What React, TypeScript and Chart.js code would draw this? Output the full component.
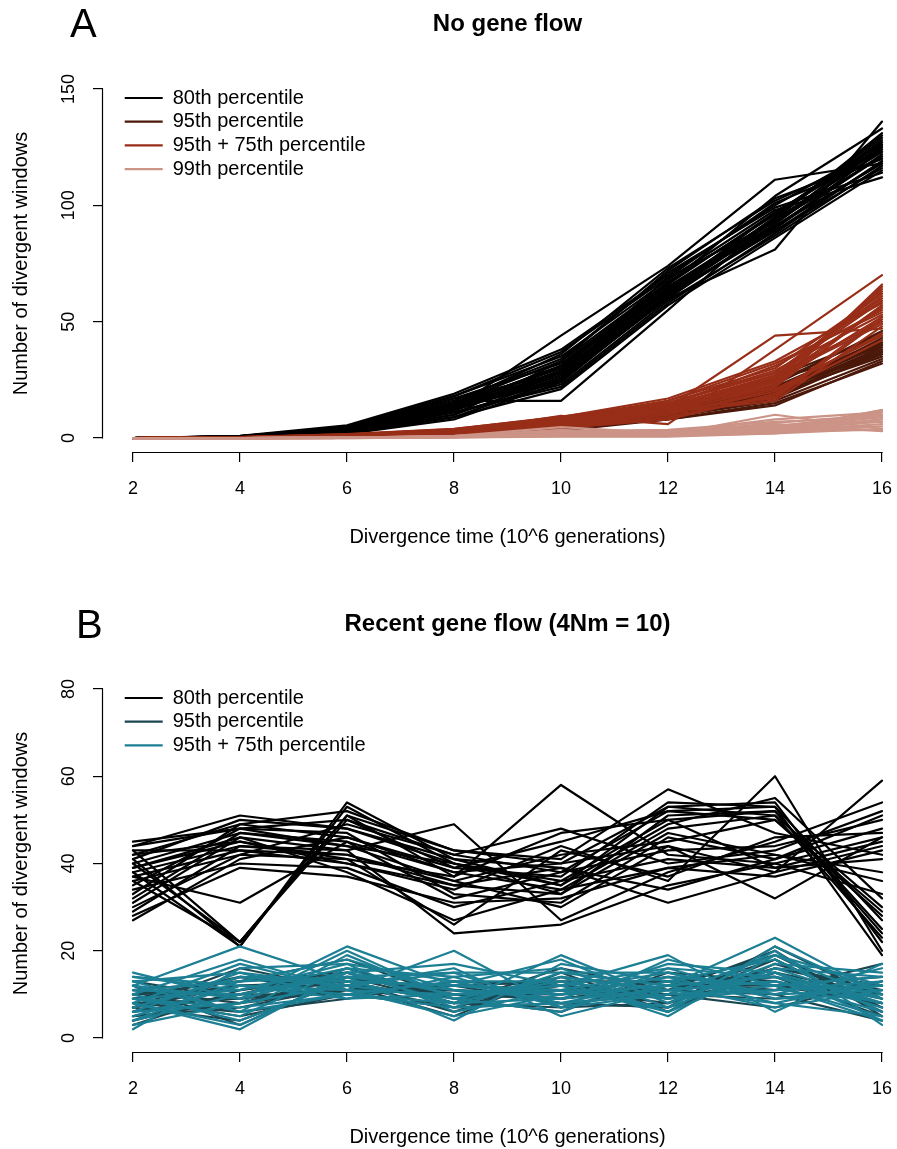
import React, { useEffect, useRef } from 'react';
import { Chart, registerables } from 'chart.js';

Chart.register(...registerables);

// ---------------- data ----------------
const divergenceTimes = [2, 4, 6, 8, 10, 12, 14, 16];
const xTickValues = [2, 4, 6, 8, 10, 12, 14, 16];
const yTickValuesA = [0, 50, 100, 150];
const yTickValuesB = [0, 20, 40, 60, 80];
const panelLetters = ['A', 'B'];
const titleA = 'No gene flow';
const titleB = 'Recent gene flow (4Nm = 10)';
const xAxisTitle = 'Divergence time (10^6 generations)';
const yAxisTitle = 'Number of divergent windows';
const seriesNamesA = ['80th percentile', '95th percentile', '95th + 75th percentile', '99th percentile'];
const seriesNamesB = ['80th percentile', '95th percentile', '95th + 75th percentile'];

// Panel A: no gene flow, one row per replicate (values at 2,4,...,16)
const noFlow80th = [
  [0, 0.5, 3.0, 12.6, 44, 74, 111, 118],
  [0, 0.8, 4.5, 16, 16, 55, 95, 128],
  [0, 0.4, 2.5, 10, 33, 72, 103, 120],
  [0, 0.6, 3.5, 14, 28, 63, 92, 125],
  [0, 0.3, 2.0, 9, 25, 60, 81, 136],
  [0, 0.7, 5.0, 18, 35, 68, 98, 112],
  [0, 0.5, 3.8, 15, 30, 65, 90, 122],
  [0, 0.9, 5.5, 19, 38, 70, 100, 126],
  [0, 0.4, 2.8, 11, 22, 58, 88, 119],
  [0, 0.6, 4.0, 13, 27, 62, 94, 131],
  [0, 0.2, 1.8, 8, 24, 61, 89, 116],
  [0, 0.7, 4.8, 17, 32, 66, 97, 124],
  [0, 0.5, 3.3, 12, 29, 69, 93, 127],
  [0, 0.3, 2.2, 10, 26, 64, 91, 121],
  [0, 0.8, 4.2, 16, 34, 71, 99, 114],
  [0, 0.6, 3.6, 14, 31, 67, 96, 129],
  [0, 0.4, 2.6, 11, 23, 59, 87, 117],
  [0, 0.5, 3.9, 15, 36, 73, 102, 123],
  [0, 0.7, 4.4, 17, 28, 63, 95, 130],
  [0, 0.3, 2.4, 9, 21, 57, 86, 115],
  [0, 0.6, 3.1, 13, 25, 62, 92, 126],
  [0, 0.5, 3.7, 14, 30, 66, 104, 133],
  [0, 0.8, 4.6, 18, 37, 69, 101, 120],
  [0, 0.4, 2.9, 12, 27, 61, 90, 124],
  [0, 0.6, 3.4, 13, 29, 64, 93, 121],
  [0, 0.5, 3.2, 12, 26, 60, 91, 118],
  [0, 0.7, 4.1, 15, 33, 67, 96, 127],
  [0, 0.4, 3.0, 12, 28, 65, 94, 123],
  [0, 0.6, 3.5, 14, 31, 63, 97, 125],
  [0, 0.5, 3.6, 13, 24, 62, 89, 119],
];
const noFlow95th = [
  [0, 0.1, 0.5, 1.8, 4.5, 10, 18, 38],
  [0, 0.2, 0.8, 2.5, 6.0, 12, 22, 42],
  [0, 0.0, 0.4, 1.2, 3.5, 9, 16, 34],
  [0, 0.1, 0.6, 2.0, 5.0, 11, 20, 40],
  [0, 0.2, 0.9, 2.8, 6.5, 13, 24, 45],
  [0, 0.1, 0.3, 1.5, 4.0, 8, 15, 32],
  [0, 0.1, 0.7, 2.2, 5.5, 12, 21, 36],
  [0, 0.0, 0.5, 1.6, 4.2, 10, 19, 43],
  [0, 0.2, 0.8, 2.6, 6.2, 14, 25, 39],
  [0, 0.1, 0.4, 1.4, 3.8, 9, 17, 37],
  [0, 0.1, 0.6, 2.1, 5.2, 11, 23, 46],
  [0, 0.2, 0.7, 2.4, 4.8, 13, 19, 35],
  [0, 0.0, 0.5, 1.9, 4.6, 10, 21, 41],
  [0, 0.1, 0.9, 2.9, 6.8, 12, 26, 44],
  [0, 0.1, 0.4, 1.3, 3.2, 8, 14, 33],
  [0, 0.2, 0.6, 2.3, 5.8, 11, 20, 38],
  [0, 0.1, 0.5, 1.7, 4.4, 10, 18, 36],
  [0, 0.1, 0.8, 2.7, 5.6, 13, 22, 40],
  [0, 0.1, 0.6, 2.0, 5.0, 11, 19, 39],
  [0, 0.1, 0.7, 2.3, 5.4, 12, 21, 41],
  [0, 0.2, 0.6, 2.1, 5.1, 11, 20, 37],
];
const noFlow95th75th = [
  [0, 0.2, 1.0, 2.5, 9.5, 6, 38, 70],
  [0, 0.3, 1.2, 3.0, 6.5, 13, 44, 47],
  [0, 0.2, 0.8, 2.2, 5.5, 11, 22, 66],
  [0, 0.4, 1.5, 3.6, 8.0, 15, 28, 60],
  [0, 0.1, 0.6, 1.8, 4.5, 9, 18, 52],
  [0, 0.3, 1.3, 3.2, 7.2, 14, 31, 55],
  [0, 0.2, 0.9, 2.6, 6.0, 12, 25, 63],
  [0, 0.4, 1.7, 4.0, 9.0, 17, 33, 58],
  [0, 0.1, 0.7, 2.0, 5.0, 10, 20, 45],
  [0, 0.3, 1.1, 2.9, 7.0, 13, 27, 50],
  [0, 0.2, 1.4, 3.4, 8.5, 16, 30, 62],
  [0, 0.2, 0.8, 2.3, 5.8, 11, 16, 48],
  [0, 0.3, 1.0, 2.7, 6.8, 14, 24, 57],
  [0, 0.1, 0.6, 1.6, 4.2, 8, 19, 42],
  [0, 0.4, 1.6, 3.8, 9.2, 15, 29, 53],
  [0, 0.2, 0.9, 2.4, 6.2, 12, 23, 65],
  [0, 0.3, 1.2, 3.1, 7.5, 13, 26, 49],
  [0, 0.1, 0.7, 2.1, 5.2, 10, 21, 44],
  [0, 0.3, 1.3, 3.3, 7.8, 16, 32, 54],
  [0, 0.2, 1.0, 2.8, 6.4, 12, 17, 51],
  [0, 0.2, 1.1, 2.8, 6.6, 13, 25, 56],
  [0, 0.3, 1.2, 3.0, 7.4, 14, 27, 59],
  [0, 0.2, 0.9, 2.5, 6.1, 12, 24, 52],
  [0, 0.3, 1.3, 3.2, 7.0, 15, 28, 61],
  [0, 0.2, 1.0, 2.6, 6.3, 13, 22, 57],
  [0, 0.3, 1.1, 2.9, 6.9, 14, 26, 64],
];
const noFlow99th = [
  [0, 0, 0.1, 0.5, 1.5, 1.5, 10, 4],
  [0, 0, 0.2, 0.8, 4.7, 2.0, 3, 12],
  [0, 0, 0.1, 0.4, 1.0, 1.0, 2, 8],
  [0, 0, 0.2, 0.6, 2.0, 2.5, 5, 10],
  [0, 0, 0.0, 0.3, 0.8, 0.8, 3, 6],
  [0, 0, 0.1, 0.7, 2.5, 3.0, 6, 3],
  [0, 0, 0.2, 0.5, 1.2, 1.2, 4, 11],
  [0, 0, 0.1, 0.9, 3.0, 3.5, 7, 9],
  [0, 0, 0.0, 0.4, 1.8, 1.8, 2.5, 5],
  [0, 0, 0.1, 0.6, 1.0, 2.2, 5.5, 7],
  [0, 0, 0.2, 0.8, 2.2, 1.4, 3.5, 12],
  [0, 0, 0.1, 0.3, 0.6, 0.6, 2, 4],
  [0, 0, 0.1, 0.5, 1.4, 2.8, 4.5, 9],
  [0, 0, 0.2, 0.7, 3.5, 1.6, 6.5, 10],
  [0, 0, 0.1, 0.4, 1.1, 1.1, 3, 3.5],
  [0, 0, 0.1, 0.6, 2.8, 2.4, 8, 11],
  [0, 0, 0.1, 0.5, 1.6, 1.9, 4, 8],
  [0, 0, 0.1, 0.6, 2.1, 2.6, 5, 10],
  [0, 0, 0.2, 0.5, 1.3, 1.3, 3.5, 7],
];

// Panel B: recent gene flow (4Nm = 10)
const flow80th = [
  [45, 48, 50, 42, 38, 52, 53, 27],
  [44, 51, 48, 40, 36, 50, 52, 24],
  [43, 22, 51, 43, 40, 53, 54, 22],
  [42, 49, 46, 38, 34, 48, 51, 30],
  [41, 21, 53, 40, 33, 51, 52, 25],
  [40, 47, 44, 36, 42, 45, 50, 29],
  [40, 22, 50, 39, 37, 54, 53, 19],
  [39, 46, 43, 49, 27, 38, 45, 54],
  [39, 45, 41, 37, 58, 42, 40, 46],
  [38, 21, 54, 41, 35, 49, 55, 32],
  [38, 44, 42, 35, 39, 31, 38, 59],
  [37, 31, 45, 38, 40, 44, 32, 46],
  [37, 43, 40, 34, 44, 36, 60, 20],
  [36, 42, 49, 42, 48, 40, 43, 52],
  [35, 48, 47, 33, 31, 46, 41, 48],
  [34, 40, 39, 30, 36, 41, 39, 45],
  [33, 49, 52, 43, 41, 57, 47, 42],
  [32, 47, 45, 32, 38, 43, 44, 50],
  [31, 46, 38, 27, 34, 39, 37, 43],
  [30, 42, 41, 26, 43, 37, 46, 47],
  [29, 44, 43, 24, 26, 35, 40, 33],
  [28, 39, 37, 31, 32, 39, 42, 36],
  [27, 41, 46, 39, 45, 52, 50, 28],
  [41, 50, 48, 41, 39, 34, 41, 51],
  [36, 22, 51, 37, 47, 50, 39, 41],
  [44, 48, 44, 40, 35, 53, 51, 23],
  [42, 45, 40, 35, 33, 47, 42, 38],
  [43, 43, 42, 36, 30, 44, 38, 44],
];
const flow95th = [
  [11, 8, 14, 10, 9, 12, 19, 7],
  [7, 12, 12, 7, 13, 9, 16, 12],
  [4, 10, 16, 9, 11, 13, 14, 5],
  [9, 5, 10, 12, 8, 7, 21, 9],
  [6, 14, 13, 6, 14, 11, 10, 4],
  [13, 9, 11, 11, 10, 14, 12, 14],
  [3, 11, 15, 8, 7, 8, 18, 6],
  [8, 6, 9, 13, 12, 10, 9, 11],
  [10, 13, 18, 9, 6, 15, 13, 8],
  [5, 7, 12, 5, 15, 6, 17, 10],
  [12, 3, 14, 10, 9, 12, 11, 17],
  [6, 10, 10, 12, 11, 8, 15, 7],
  [9, 12, 13, 8, 16, 11, 20, 5],
  [7, 16, 11, 11, 8, 10, 7, 13],
  [8, 9, 12, 10, 10, 11, 14, 9],
  [10, 11, 14, 8, 12, 9, 16, 11],
  [5, 8, 11, 11, 9, 12, 12, 8],
  [11, 13, 15, 9, 11, 10, 18, 6],
  [7, 4, 13, 12, 13, 13, 11, 12],
  [9, 14, 10, 7, 8, 7, 15, 10],
];
const flow95th75th = [
  [15, 9, 21, 12, 10, 14, 8, 5],
  [12, 21, 13, 8, 19, 9, 12, 14],
  [10, 18, 11, 20, 7, 12, 23, 10],
  [8, 2, 15, 10, 12, 19, 6, 17],
  [5, 12, 9, 14, 16, 7, 20, 3],
  [2, 16, 17, 6, 11, 15, 9, 12],
  [13, 6, 19, 9, 14, 6, 16, 8],
  [7, 14, 12, 16, 5, 11, 13, 6],
  [11, 10, 14, 4, 17, 13, 10, 16],
  [4, 13, 18, 11, 9, 17, 15, 4],
  [9, 7, 10, 13, 13, 5, 19, 9],
  [14, 11, 16, 7, 8, 10, 11, 13],
  [6, 15, 12, 15, 15, 12, 7, 11],
  [3, 8, 20, 9, 6, 16, 14, 7],
  [10, 4, 13, 12, 18, 8, 17, 15],
  [8, 17, 11, 5, 10, 14, 12, 5],
  [12, 9, 15, 17, 12, 6, 21, 10],
  [5, 12, 10, 8, 14, 11, 8, 13],
  [9, 5, 16, 14, 7, 18, 12, 4],
  [13, 15, 9, 10, 11, 9, 15, 8],
  [11, 13, 14, 11, 10, 12, 14, 9],
  [6, 8, 12, 9, 13, 9, 11, 12],
  [9, 11, 17, 13, 8, 13, 18, 6],
  [12, 6, 10, 7, 15, 15, 10, 11],
  [7, 14, 13, 12, 11, 7, 16, 14],
  [4, 10, 15, 8, 9, 11, 13, 8],
  [14, 12, 11, 10, 12, 16, 9, 10],
  [8, 3, 14, 15, 7, 10, 19, 12],
];

// ---------------- styles ----------------
const FONT = "'Liberation Sans', Arial, Helvetica, sans-serif";
const colorsA = ['#000000', '#4B180A', '#982E18', '#CC9387'];
const colorsB = ['#000000', '#1B4650', '#1C7F93'];
const CANVAS_W = 912;
const CANVAS_H = 600;

const axisLinesPlugin = {
  id: 'axisLines',
  afterDraw(chart: any) {
    const { ctx, chartArea, scales } = chart;
    const x = scales.x;
    const y = scales.y;
    const xt = x.ticks;
    const yt = y.ticks;
    ctx.save();
    ctx.strokeStyle = '#000';
    ctx.lineWidth = 1.2;
    ctx.beginPath();
    const yb = Math.round(chartArea.bottom) + 0.5;
    ctx.moveTo(x.getPixelForValue(xt[0].value) - 0.5, yb);
    ctx.lineTo(x.getPixelForValue(xt[xt.length - 1].value) + 0.5, yb);
    const xl = Math.round(chartArea.left) - 0.5;
    ctx.moveTo(xl, y.getPixelForValue(yt[0].value) + 0.5);
    ctx.lineTo(xl, y.getPixelForValue(yt[yt.length - 1].value) - 0.5);
    ctx.stroke();
    ctx.restore();
  },
};

const legendPlacePlugin = {
  id: 'legendPlace',
  afterLayout(chart: any, _args: any, o: any) {
    const lg = chart.legend;
    if (!lg) return;
    const ca = chart.chartArea;
    lg.left = ca.left + o.dx;
    lg.top = ca.top + o.dy;
    lg.right = lg.left + lg.width;
    lg.bottom = ca.bottom;
  },
};

function makeDatasets(names: string[], rowsList: number[][][], colors: string[]) {
  const ds: any[] = [];
  for (let g = names.length - 1; g >= 0; g--) {
    rowsList[g].forEach((row, i) => {
      ds.push({
        label: names[g],
        data: row.map((v, k) => ({ x: divergenceTimes[k], y: v })),
        borderColor: colors[g],
        backgroundColor: colors[g],
        borderWidth: 2.2,
        pointRadius: 0,
        pointHoverRadius: 0,
        pointBorderWidth: 2.2,
        pointStyle: 'line',
        borderCapStyle: 'round',
        borderJoinStyle: 'round',
        tension: 0,
        fill: false,
        legendRank: g,
        isLegend: i === 0,
      });
    });
  }
  return ds;
}

function makeConfig(p: {
  title: string;
  names: string[];
  rows: number[][][];
  colors: string[];
  yMin: number;
  yMax: number;
  yTicks: number[];
  yTickPad: number;
}) {
  return {
    type: 'line',
    data: { datasets: makeDatasets(p.names, p.rows, p.colors) },
    options: {
      responsive: false,
      animation: false,
      events: [],
      layout: { padding: 0 },
      plugins: {
        title: {
          display: true,
          text: p.title,
          fullSize: false,
          color: '#000',
          font: { family: FONT, size: 24, weight: 'bold' },
          padding: { top: 9.6, bottom: 36.6 },
        },
        legend: {
          display: true,
          position: 'chartArea',
          align: 'start',
          labels: {
            usePointStyle: true,
            pointStyle: 'line',
            pointStyleWidth: 38,
            boxHeight: 20,
            padding: 3.7,
            color: '#000',
            font: { family: FONT, size: 20 },
            filter: (item: any, data: any) => !!data.datasets[item.datasetIndex].isLegend,
            sort: (a: any, b: any, data: any) =>
              data.datasets[a.datasetIndex].legendRank - data.datasets[b.datasetIndex].legendRank,
          },
        },
        legendPlace: { dx: 18, dy: 9.3 },
        tooltip: { enabled: false },
      },
      scales: {
        x: {
          type: 'linear',
          min: 1.44,
          max: 16.56,
          afterBuildTicks: (s: any) => {
            s.ticks = xTickValues.map((v) => ({ value: v }));
          },
          afterFit: (s: any) => {
            s.height = 148;
          },
          grid: { display: true, drawOnChartArea: false, drawTicks: true, tickLength: 10, color: '#000', lineWidth: 1.2 },
          border: { display: false },
          ticks: { color: '#000', font: { family: FONT, size: 18 }, padding: 16, maxRotation: 0, autoSkip: false },
          title: {
            display: true,
            text: xAxisTitle,
            color: '#000',
            font: { family: FONT, size: 20 },
            padding: { top: 0, bottom: 51 },
          },
        },
        y: {
          type: 'linear',
          min: p.yMin,
          max: p.yMax,
          afterBuildTicks: (s: any) => {
            s.ticks = p.yTicks.map((v) => ({ value: v }));
          },
          afterFit: (s: any) => {
            s.width = 103;
          },
          grid: { display: true, drawOnChartArea: false, drawTicks: true, tickLength: 10, color: '#000', lineWidth: 1.2 },
          border: { display: false },
          ticks: {
            color: '#000',
            font: { family: FONT, size: 18 },
            minRotation: 90,
            maxRotation: 90,
            crossAlign: 'center',
            padding: p.yTickPad,
            autoSkip: false,
          },
          title: {
            display: true,
            text: yAxisTitle,
            color: '#000',
            font: { family: FONT, size: 20 },
            padding: { top: 9, bottom: 0 },
          },
        },
      },
    },
    plugins: [axisLinesPlugin, legendPlacePlugin],
  };
}

function Panel({ top, config }: { top: number; config: () => any }) {
  const ref = useRef<HTMLCanvasElement>(null);
  useEffect(() => {
    const chart = new Chart(ref.current as HTMLCanvasElement, config() as any);
    return () => chart.destroy();
  }, []);
  return (
    <canvas
      ref={ref}
      width={CANVAS_W}
      height={CANVAS_H}
      style={{ position: 'absolute', left: 0, top, width: CANVAS_W, height: CANVAS_H }}
    />
  );
}

export default function App() {
  const cfgA = () =>
    makeConfig({
      title: titleA,
      names: seriesNamesA,
      rows: [noFlow80th, noFlow95th, noFlow95th75th, noFlow99th],
      colors: colorsA,
      yMin: -6,
      yMax: 156,
      yTicks: yTickValuesA,
      yTickPad: 9,
    });
  const cfgB = () =>
    makeConfig({
      title: titleB,
      names: seriesNamesB,
      rows: [flow80th, flow95th, flow95th75th],
      colors: colorsB,
      yMin: -3.2,
      yMax: 83.2,
      yTicks: yTickValuesB,
      yTickPad: 14,
    });
  const letterStyle: React.CSSProperties = {
    position: 'absolute',
    fontFamily: FONT,
    fontSize: 40,
    lineHeight: '40px',
    color: '#000',
    zIndex: 2,
  };
  return (
    <div
      style={{
        position: 'absolute',
        left: 0,
        top: 0,
        width: 897,
        height: 1149,
        overflow: 'hidden',
        background: '#fff',
      }}
    >
      <Panel top={0} config={cfgA} />
      <Panel top={600} config={cfgB} />
      <div style={{ ...letterStyle, left: 70, top: 3 }}>{panelLetters[0]}</div>
      <div style={{ ...letterStyle, left: 76, top: 604 }}>{panelLetters[1]}</div>
    </div>
  );
}
